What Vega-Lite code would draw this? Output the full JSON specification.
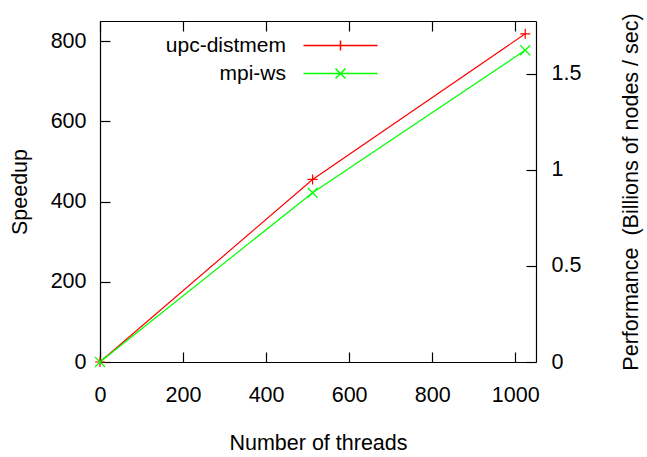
{
  "$schema": "https://vega.github.io/schema/vega-lite/v6.json",
  "width": 436,
  "height": 341,
  "autosize": {"type": "none"},
  "padding": {"left": 100, "top": 21, "right": 111, "bottom": 95},
  "background": "#ffffff",
  "config": {
    "view": {"stroke": null},
    "font": "Liberation Sans",
    "axis": {
      "labelFont": "Liberation Sans", "labelFontSize": 21.5, "labelColor": "#000000",
      "titleFont": "Liberation Sans", "titleFontSize": 21.5, "titleFontWeight": "normal", "titleColor": "#000000",
      "domainColor": "#000000", "domainWidth": 1.2, "tickColor": "#000000", "tickSize": -10, "tickWidth": 1.2,
      "grid": false, "labelFlush": false, "labelOverlap": false
    }
  },
  "datasets": {
    "main": [
      {"series": "upc-distmem", "threads": 0, "speedup": 0},
      {"series": "upc-distmem", "threads": 512, "speedup": 455},
      {"series": "upc-distmem", "threads": 1024, "speedup": 818},
      {"series": "mpi-ws", "threads": 0, "speedup": 0},
      {"series": "mpi-ws", "threads": 512, "speedup": 422},
      {"series": "mpi-ws", "threads": 1024, "speedup": 777}
    ]
  },
  "layer": [
    {
      "data": {"name": "main"},
      "mark": {"type": "line", "strokeWidth": 1.2},
      "encoding": {
        "x": {"field": "threads", "type": "quantitative", "scale": {"domain": [0, 1050], "nice": false},
          "axis": {"orient": "bottom", "values": [0, 200, 400, 600, 800, 1000], "format": "d", "title": "Number of threads", "labelPadding": 32, "titlePadding": 27}},
        "y": {"field": "speedup", "type": "quantitative", "scale": {"domain": [0, 850], "nice": false},
          "axis": {"orient": "left", "values": [0, 200, 400, 600, 800], "format": "d", "title": "Speedup", "labelPadding": 24, "titlePadding": 19}},
        "color": {"field": "series", "type": "nominal", "scale": {"domain": ["upc-distmem", "mpi-ws"], "range": ["#ff0000", "#00ff00"]}, "legend": null}
      }
    },
    {
      "data": {"name": "main"},
      "mark": {"type": "point", "filled": false, "size": 100, "strokeWidth": 1.2, "opacity": 1},
      "encoding": {
        "x": {"field": "threads", "type": "quantitative", "scale": {"domain": [0, 1050], "nice": false}, "axis": null},
        "y": {"field": "speedup", "type": "quantitative", "scale": {"domain": [0, 850], "nice": false}, "axis": null},
        "color": {"field": "series", "type": "nominal", "scale": {"domain": ["upc-distmem", "mpi-ws"], "range": ["#ff0000", "#00ff00"]}, "legend": null},
        "shape": {"field": "series", "type": "nominal", "scale": {"domain": ["upc-distmem", "mpi-ws"], "range": ["M -1 0 L 1 0 M 0 -1 L 0 1", "M -1 -1 L 1 1 M -1 1 L 1 -1"]}, "legend": null}
      }
    },
    {
      "mark": {"type": "point", "opacity": 0},
      "encoding": {
        "x": {"datum": 0, "type": "quantitative",
          "axis": {"orient": "top", "values": [0, 200, 400, 600, 800, 1000], "labels": false, "title": null}},
        "y": {"datum": 0, "type": "quantitative", "scale": {"domain": [0, 1.776], "nice": false},
          "axis": {"orient": "right", "values": [0, 0.5, 1, 1.5], "format": "~g", "title": "Performance\u00a0 (Billions of nodes / sec)", "titleAngle": -90, "labelPadding": 25, "titlePadding": 62}}
      }
    },
    {
      "data": {"values": []},
      "mark": {"type": "point", "filled": false, "size": 100, "strokeWidth": 1.5, "opacity": 1},
      "encoding": {
        "color": {"field": "series", "type": "nominal", "scale": {"domain": ["upc-distmem", "mpi-ws"], "range": ["#ff0000", "#00ff00"]},
          "legend": {"title": null, "orient": "none", "legendX": 230, "legendY": 14, "labelAlign": "right", "labelOffset": -65, "labelFontSize": 21, "labelFont": "Liberation Sans", "labelColor": "#000000", "symbolSize": 100, "symbolStrokeWidth": 1.5, "symbolOpacity": 1, "rowPadding": 6, "padding": 0, "labelLimit": 0}},
        "shape": {"field": "series", "type": "nominal", "scale": {"domain": ["upc-distmem", "mpi-ws"], "range": ["M -7.4 0 L 7.4 0 M 0 -1 L 0 1", "M -7.4 0 L 7.4 0 M -1 -1 L 1 1 M -1 1 L 1 -1"]},
          "legend": {"title": null, "orient": "none", "legendX": 230, "legendY": 14, "labelAlign": "right", "labelOffset": -65, "labelFontSize": 21, "labelFont": "Liberation Sans", "labelColor": "#000000", "symbolSize": 100, "symbolStrokeWidth": 1.5, "symbolOpacity": 1, "rowPadding": 6, "padding": 0, "labelLimit": 0}}
      }
    }
  ],
  "resolve": {
    "scale": {"y": "independent", "color": "independent", "shape": "independent"},
    "axis": {"x": "independent"}
  }
}
